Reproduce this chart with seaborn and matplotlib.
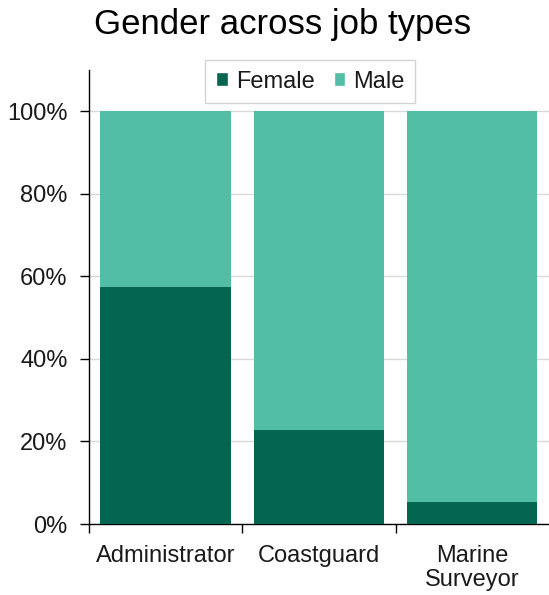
import matplotlib
matplotlib.use("Agg")
import matplotlib.pyplot as plt
import seaborn as sns
import pandas as pd
import numpy as np
from matplotlib.patches import Patch
from matplotlib.ticker import FixedLocator

categories = ["Administrator", "Coastguard", "Marine\nSurveyor"]
female = [57.4, 22.8, 5.3]
male = [42.6, 77.2, 94.7]
yticks = [0, 20, 40, 60, 80, 100]

female_color = "#036650"
male_color = "#52BEA6"
text_color = "#1a1a1a"

sns.set_theme(style="white")
plt.rcParams["font.family"] = ["Liberation Sans", "DejaVu Sans"]

fig = plt.figure(figsize=(5.49, 5.95), dpi=100)
ax = fig.add_axes([0.162, 0.1193, 0.838, 0.7631])

df = pd.DataFrame({"cat": categories, "female": female, "male": male})
df["total"] = df["female"] + df["male"]

ax.set_axisbelow(True)
for y in yticks:
    ax.axhline(y, color="#D9D9D9", lw=1, zorder=0)

sns.barplot(data=df, x="cat", y="total", color=male_color, width=0.85,
            saturation=1, ax=ax, zorder=2)
sns.barplot(data=df, x="cat", y="female", color=female_color, width=0.85,
            saturation=1, ax=ax, zorder=3)
for p in ax.patches:
    p.set_linewidth(0)

ax.set_xlim(-0.5, 2.5)
ax.set_ylim(0, 110)
ax.set_yticks(yticks)
ax.set_yticklabels([f"{v}%" for v in yticks], fontsize=17, color=text_color)
ax.set_xticks(range(len(categories)))
ax.set_xticklabels(categories, fontsize=17, color=text_color, linespacing=1.1)
ax.xaxis.set_minor_locator(FixedLocator([-0.5, 0.5, 1.5]))
ax.tick_params(axis="x", which="major", length=0, pad=15)
ax.tick_params(axis="x", which="minor", length=6.5, width=1, color="black", direction="out", bottom=True)
ax.tick_params(axis="y", length=6.5, width=1, color="black", direction="out", left=True, pad=9)
ax.set_xlabel("")
ax.set_ylabel("")

for s in ["top", "right"]:
    ax.spines[s].set_visible(False)
for s in ["left", "bottom"]:
    ax.spines[s].set_color("black")
    ax.spines[s].set_linewidth(1)

handles = [Patch(facecolor=female_color, label="Female"),
           Patch(facecolor=male_color, label="Male")]
leg = ax.legend(handles=handles, loc="upper center", bbox_to_anchor=(0.4815, 1.022),
                ncol=2, frameon=True, fontsize=17, handlelength=0.5, handleheight=0.5,
                handletextpad=0.34, columnspacing=0.8, borderpad=0.45, borderaxespad=0,
                fancybox=False)
leg.get_frame().set_edgecolor("#C8C8C8")
leg.get_frame().set_linewidth(1)
for t in leg.get_texts():
    t.set_color(text_color)

fig.text(0.514, 0.943, "Gender across job types", ha="center", va="baseline",
         fontsize=25, color="black")

fig.savefig("out.png", dpi=100)
